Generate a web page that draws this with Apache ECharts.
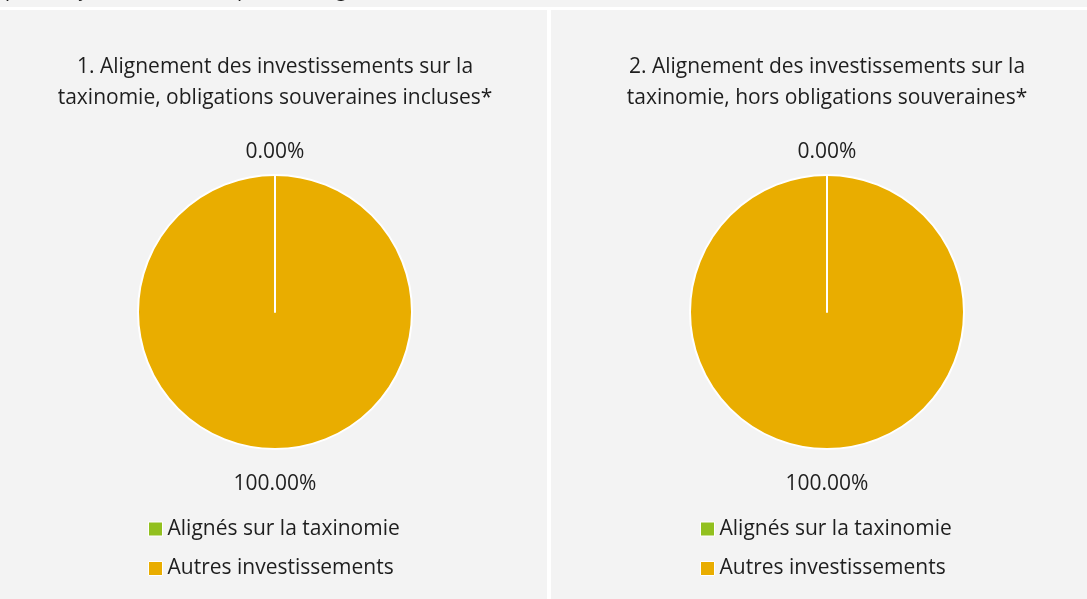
<!DOCTYPE html>
<html>
<head>
<meta charset="utf-8">
<script src="https://cdn.jsdelivr.net/npm/echarts@6/dist/echarts.min.js"></script>
<style>
  html, body { margin: 0; padding: 0; background: #ffffff; }
  #chart { width: 1087px; height: 599px; }
</style>
</head>
<body>
<div id="chart"></div>
<script>
// Taxonomy alignment, in percent of investments
const categories = ['Alignés sur la taxinomie', 'Autres investissements'];
const sharesWithSovereigns = [0, 100];
const sharesWithoutSovereigns = [0, 100];
const pieTitles = [
  '1. Alignement des investissements sur la\ntaxinomie, obligations souveraines incluses*',
  '2. Alignement des investissements sur la\ntaxinomie, hors obligations souveraines*'
];
const sliceColors = ['#92c01f', '#e9ad00'];
const footnote = 'produit financier autres que les obligations souveraines.';

const FONT = '"Open Sans", "Noto Sans", sans-serif';
const TEXT = '#1e1e1e';
const PANEL = '#f3f3f3';

const chart = echarts.init(document.getElementById('chart'), null, { renderer: 'canvas' });

// The 100 % slice goes first so the zero slice (and its white edge) is painted on top.
function pieData(values) {
  return categories.map((name, i) => ({
    name: name,
    value: values[i],
    itemStyle: { color: sliceColors[i] }
  })).reverse();
}

function pieSeries(values, center) {
  return {
    type: 'pie',
    center: center,
    radius: 137,
    startAngle: 90,
    clockwise: true,
    silent: true,
    avoidLabelOverlap: false,
    itemStyle: { borderColor: '#ffffff', borderWidth: 2 },
    label: {
      show: true,
      position: 'outside',
      formatter: p => p.value.toFixed(2) + '%',
      fontFamily: FONT,
      fontSize: 21,
      color: TEXT
    },
    labelLine: { show: false, length: 0, length2: 0 },
    // centre each percentage above / below the disc
    labelLayout: function (params) {
      const r = params.rect;
      const isZero = r.height < 150;
      return {
        x: r.x + r.width / 2,
        y: isZero ? r.y - 22 : r.y + r.height + 34,
        align: 'center',
        verticalAlign: 'middle'
      };
    },
    data: pieData(values)
  };
}

function legend(left) {
  return {
    orient: 'vertical',
    left: left,
    top: 516,
    padding: 0,
    icon: 'rect',
    itemWidth: 14,
    itemHeight: 14,
    itemGap: 13.5,
    selectedMode: false,
    data: categories,
    itemStyle: { borderColor: '#ffffff', borderWidth: 1 },
    textStyle: { fontFamily: FONT, fontSize: 21, color: TEXT, lineHeight: 26 }
  };
}

const titleStyle = { fontFamily: FONT, fontSize: 21, fontWeight: 'normal', color: TEXT, lineHeight: 31 };

chart.setOption({
  backgroundColor: PANEL,
  animation: false,
  title: [
    { text: pieTitles[0], left: 275, top: 52, textAlign: 'center', padding: 0, textStyle: titleStyle },
    { text: pieTitles[1], left: 827, top: 52, textAlign: 'center', padding: 0, textStyle: titleStyle }
  ],
  legend: [legend(148), legend(700)],
  graphic: [
    {
      type: 'text', left: 7, top: -20, silent: true, z: 1,
      style: { text: footnote, font: 'italic 21px ' + FONT, fill: TEXT }
    },
    { type: 'rect', shape: { x: 0, y: 7, width: 1087, height: 3 }, style: { fill: '#ffffff' }, silent: true, z: 2 },
    { type: 'rect', shape: { x: 0, y: 10, width: 1087, height: 10 }, style: { fill: PANEL }, silent: true, z: 2 },
    { type: 'rect', shape: { x: 547, y: 10, width: 4, height: 589 }, style: { fill: '#ffffff' }, silent: true, z: 2 }
  ],
  series: [
    pieSeries(sharesWithSovereigns, [275, 312]),
    pieSeries(sharesWithoutSovereigns, [827, 312])
  ]
});
</script>
</body>
</html>
